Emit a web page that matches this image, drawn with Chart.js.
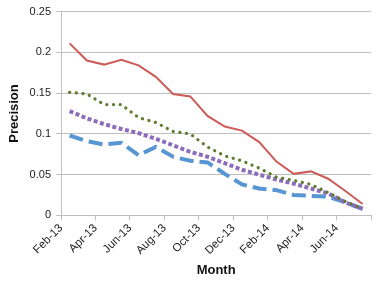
<!DOCTYPE html>
<html>
<head>
<meta charset="utf-8">
<script src="https://cdn.jsdelivr.net/npm/chart.js@4"></script>
<style>
  html, body { margin: 0; padding: 0; background: #fff; }
  #wrap { width: 382px; height: 286px; }
</style>
</head>
<body>
<div id="wrap"><canvas id="chart"></canvas></div>
<script>
// month slots (each point sits in the middle of its month)
const months = ['Feb-13', 'Mar-13', 'Apr-13', 'May-13', 'Jun-13', 'Jul-13', 'Aug-13', 'Sep-13', 'Oct-13',
                'Nov-13', 'Dec-13', 'Jan-14', 'Feb-14', 'Mar-14', 'Apr-14', 'May-14', 'Jun-14', 'Jul-14'];

const redSeries = [0.211, 0.190, 0.185, 0.191, 0.184, 0.170, 0.149, 0.146, 0.122, 0.109, 0.104, 0.090,
                   0.066, 0.051, 0.054, 0.045, 0.030, 0.014];
const greenSeries = [0.151, 0.149, 0.136, 0.136, 0.120, 0.114, 0.103, 0.100, 0.084, 0.073, 0.067, 0.058,
                     0.047, 0.043, 0.038, 0.028, 0.017, 0.008];
const purpleSeries = [0.128, 0.119, 0.112, 0.106, 0.101, 0.094, 0.086, 0.078, 0.072, 0.064, 0.056, 0.050,
                      0.044, 0.039, 0.033, 0.027, 0.016, 0.008];
const blueSeries = [0.098, 0.091, 0.087, 0.089, 0.074, 0.084, 0.072, 0.067, 0.065, 0.051, 0.038, 0.033,
                    0.031, 0.025, 0.024, 0.023, 0.016, 0.008];

const yTicks = [0, 0.05, 0.1, 0.15, 0.2, 0.25];

const toPoints = arr => arr.map((v, i) => ({ x: i + 0.5, y: v }));

const ctx = document.getElementById('chart').getContext('2d');

new Chart(ctx, {
    type: 'line',
    data: {
        datasets: [
            {
                label: 'Series 1',
                data: toPoints(redSeries),
                borderColor: '#CD5B57',
                borderWidth: 2,
                pointRadius: 0,
            },
            {
                label: 'Series 2',
                data: toPoints(greenSeries),
                borderColor: '#5E7B2F',
                borderWidth: 3.2,
                borderCapStyle: 'round',
                borderDash: [0.1, 6.6],
                pointRadius: 0,
            },
            {
                label: 'Series 3',
                data: toPoints(purpleSeries),
                borderColor: '#8D6CBB',
                borderWidth: 4,
                borderDash: [4, 2.5],
                pointRadius: 0,
            },
            {
                label: 'Series 4',
                data: toPoints(blueSeries),
                borderColor: '#5895D3',
                borderWidth: 4,
                borderDash: [14, 6],
                pointRadius: 0,
            },
        ],
    },
    options: {
        responsive: true,
        maintainAspectRatio: false,
        animation: false,
        layout: {
            padding: { left: 3, right: 8, top: 4, bottom: 6 },
        },
        plugins: {
            legend: { display: false },
            tooltip: { enabled: false },
        },
        scales: {
            x: {
                type: 'linear',
                min: 0,
                max: months.length,
                ticks: {
                    stepSize: 2,
                    autoSkip: false,
                    maxRotation: 45,
                    minRotation: 45,
                    color: '#222',
                    font: { family: 'Liberation Sans', size: 11.5 },
                    padding: 1,
                    callback: v => months[v] || '',
                },
                grid: {
                    drawOnChartArea: false,
                    drawTicks: true,
                    tickLength: 5,
                    color: '#bfbfbf',
                },
                border: { color: '#bfbfbf' },
                title: {
                    display: true,
                    text: 'Month',
                    color: '#111',
                    font: { family: 'Liberation Sans', size: 13, weight: 'bold' },
                    padding: { top: 4, bottom: 2 },
                },
            },
            y: {
                min: 0,
                max: 0.25,
                afterBuildTicks: axis => {
                    axis.ticks = yTicks.map(v => ({ value: v }));
                },
                ticks: {
                    color: '#222',
                    font: { family: 'Liberation Sans', size: 11 },
                    padding: 5,
                    callback: v => String(v),
                },
                grid: {
                    color: '#bfbfbf',
                    tickLength: 5,
                },
                border: { color: '#bfbfbf' },
                title: {
                    display: true,
                    text: 'Precision',
                    color: '#111',
                    font: { family: 'Liberation Sans', size: 13, weight: 'bold' },
                    padding: { bottom: 2 },
                },
            },
        },
    },
});
</script>
</body>
</html>
